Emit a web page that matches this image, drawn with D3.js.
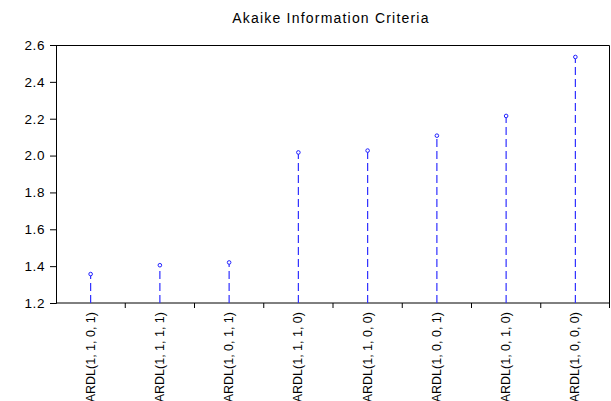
<!DOCTYPE html>
<html><head><meta charset="utf-8">
<script src="https://cdn.jsdelivr.net/npm/d3@7"></script>
<style>body{margin:0;background:#fff}svg{display:block}</style>
</head><body>
<script>
const categories = ["ARDL(1, 1, 0, 1)","ARDL(1, 1, 1, 1)","ARDL(1, 0, 1, 1)","ARDL(1, 1, 1, 0)","ARDL(1, 1, 0, 0)","ARDL(1, 0, 0, 1)","ARDL(1, 0, 1, 0)","ARDL(1, 0, 0, 0)"];
const aicValues = [1.357, 1.405, 1.420, 2.017, 2.027, 2.108, 2.215, 2.535];
const yTicks = [1.2, 1.4, 1.6, 1.8, 2.0, 2.2, 2.4, 2.6];
const title = "Akaike Information Criteria";

const W = 611, H = 401;
const m = {left: 56, right: 1, top: 45, bottom: 98};
const svg = d3.select("body").append("svg").attr("width", W).attr("height", H);
const font = "'Liberation Sans', Arial, sans-serif";

const x = d3.scaleBand().domain(categories).range([m.left, W - m.right]);
const y = d3.scaleLinear().domain([1.2, 2.6]).range([H - m.bottom, m.top]);

svg.append("text").attr("x", 331).attr("y", 23).attr("text-anchor", "middle")
  .attr("font-family", font).attr("font-size", 14).attr("letter-spacing", 1.2).attr("fill", "#000").text(title);

// frame top and right
svg.append("path").attr("d", `M${m.left},${m.top+0.5}H${W-m.right-0.5}V${H-m.bottom}`)
  .attr("fill", "none").attr("stroke", "#000").attr("stroke-width", 1);

// y axis
const ya = svg.append("g").attr("transform", `translate(${m.left},0)`)
  .call(d3.axisLeft(y).tickValues(yTicks).tickFormat(d3.format(".1f")).tickSize(6).tickPadding(5));
ya.select(".domain").attr("stroke", "#000");
ya.selectAll("text").attr("font-family", font).attr("font-size", 13.5).attr("letter-spacing", 0.6).attr("fill", "#000");

// x axis: ticks at band boundaries
const xa = svg.append("g").attr("transform", `translate(0,${H - m.bottom})`);
xa.append("line").attr("x1", m.left).attr("x2", W - m.right).attr("stroke", "#000");
const bounds = categories.map((c) => x(c)).concat([W - m.right - 0.5]);
xa.selectAll(".tk").data(bounds.slice(1)).join("line").attr("class", "tk")
  .attr("x1", d => d).attr("x2", d => d).attr("y1", 0).attr("y2", 5).attr("stroke", "#000");
xa.selectAll(".lbl").data(categories).join("text").attr("class", "lbl")
  .attr("transform", d => `translate(${x(d) + x.bandwidth()/2 + 4},${9}) rotate(-90)`)
  .attr("text-anchor", "end").attr("font-family", font).attr("font-size", 12.5).attr("fill", "#000")
  .text(d => d);

// stems
const pts = categories.map((c, i) => ({c, v: aicValues[i]}));
svg.selectAll(".stem").data(pts).join("line").attr("class", "stem")
  .attr("x1", d => x(d.c) + x.bandwidth()/2).attr("x2", d => x(d.c) + x.bandwidth()/2)
  .attr("y1", y(1.2)).attr("y2", d => y(d.v))
  .attr("stroke", "#3030ff").attr("stroke-width", 1.2).attr("stroke-dasharray", "8,4");
svg.selectAll(".pt").data(pts).join("circle").attr("class", "pt")
  .attr("cx", d => x(d.c) + x.bandwidth()/2).attr("cy", d => y(d.v)).attr("r", 1.8)
  .attr("fill", "#fff").attr("stroke", "#2020ff").attr("stroke-width", 1);
</script>
</body></html>
